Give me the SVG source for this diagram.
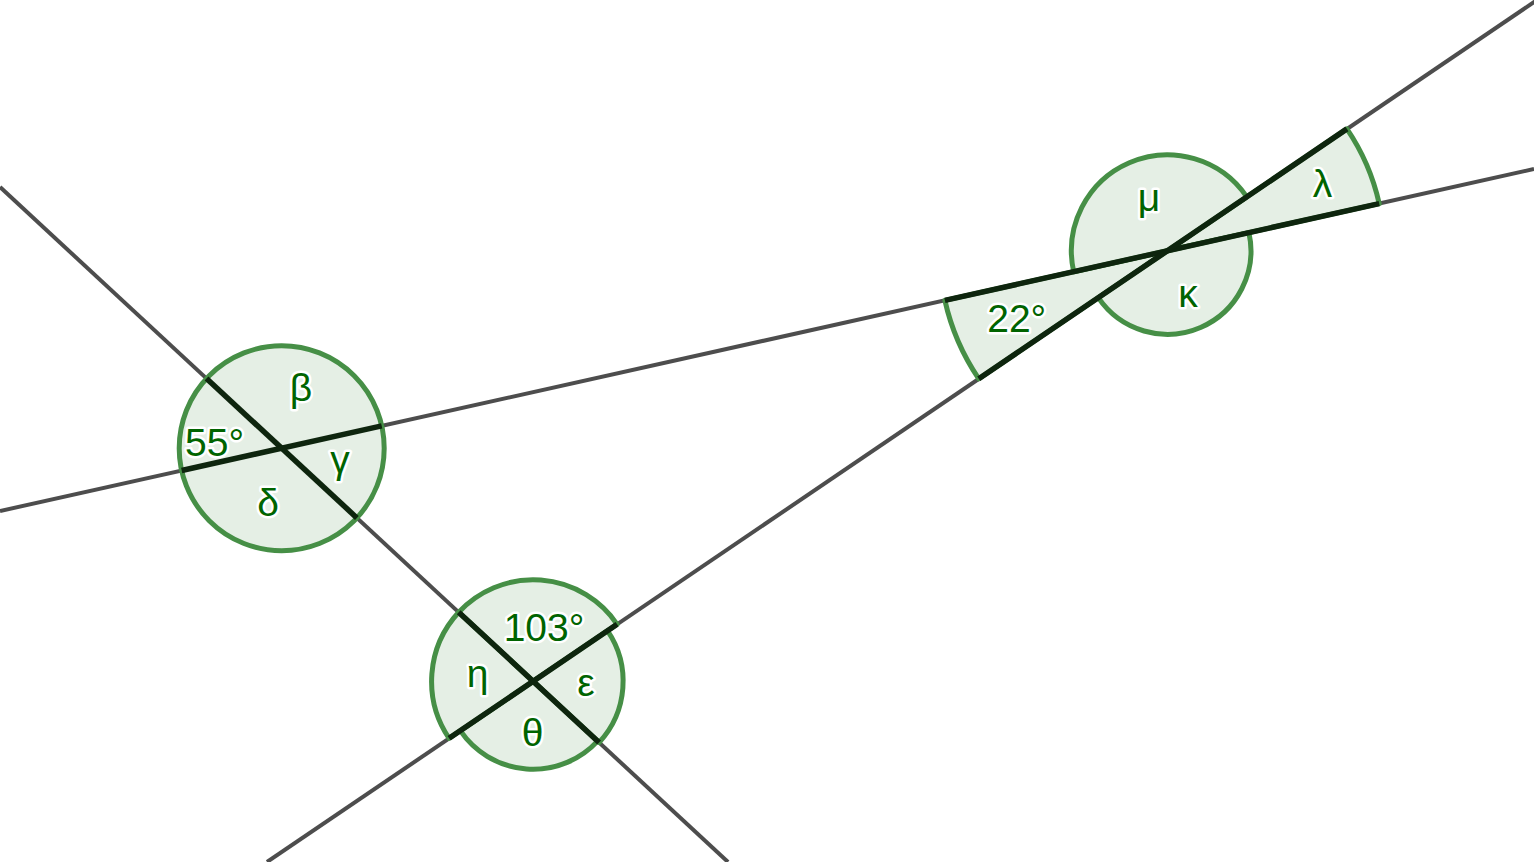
<svg xmlns="http://www.w3.org/2000/svg" width="1534" height="862" viewBox="0 0 1534 862">
<style>
.line{stroke:#4d4d4d;stroke-width:4;fill:none}
.sector{fill:#e5efe5;stroke:#468f46;stroke-width:5;stroke-linejoin:round}
.edge{stroke:#0e250e;stroke-width:5.5;fill:none}
.lbl{font-family:"Liberation Sans",Arial,sans-serif;font-size:39px;fill:#006400;stroke:#ffffff;stroke-width:5;paint-order:stroke;stroke-linejoin:round;text-anchor:middle}
</style>
<rect width="1534" height="862" fill="#ffffff"/>
<g id="connectors">
<line class="line" x1="0" y1="187" x2="728" y2="862"/>
<line class="line" x1="0" y1="511" x2="1534" y2="169"/>
<line class="line" x1="267" y1="862" x2="1537" y2="0"/>
</g>
<g id="vertex1">
<circle class="sector" cx="281.7" cy="448.2" r="102.5"/>
<line class="edge" x1="206.5" y1="378.5" x2="356.9" y2="517.9"/>
<line class="edge" x1="181.7" y1="470.5" x2="381.7" y2="425.9"/>
</g>
<g id="vertex2">
<path class="sector" d="M533.1 681.3 L458.7 612.3 A101.5 101.5 0 0 1 617.1 624.3 Z"/>
<path class="sector" d="M533.1 681.3 L607.6 630.8 A90 90 0 0 1 599.1 742.5 Z"/>
<path class="sector" d="M533.1 681.3 L597.6 741.1 A88 88 0 0 1 460.3 730.7 Z"/>
<path class="sector" d="M533.1 681.3 L449.1 738.3 A101.5 101.5 0 0 1 458.7 612.3 Z"/>
<line class="edge" x1="458.7" y1="612.3" x2="599.1" y2="742.5"/>
<line class="edge" x1="449.1" y1="738.3" x2="617.1" y2="624.3"/>
</g>
<g id="vertex3">
<path class="sector" d="M1167.4 250.8 L978.8 378.8 A228 228 0 0 1 944.9 300.4 Z"/>
<path class="sector" d="M1167.4 250.8 L1346.9 128.9 A217 217 0 0 1 1379.2 203.6 Z"/>
<path class="sector" d="M1167.4 250.8 L1246.8 196.9 A96 96 0 0 0 1073.7 271.7 Z"/>
<path class="sector" d="M1167.4 250.8 L1248.9 232.6 A83.5 83.5 0 0 1 1098.3 297.7 Z"/>
<line class="edge" x1="944.9" y1="300.4" x2="1379.2" y2="203.6"/>
<line class="edge" x1="978.8" y1="378.8" x2="1346.9" y2="128.9"/>
</g>
<g id="labels">
<text class="lbl" x="214.5" y="456">55°</text>
<text class="lbl" x="301" y="401">β</text>
<text class="lbl" x="340" y="473">γ</text>
<text class="lbl" x="268" y="516">δ</text>
<text class="lbl" x="544" y="641">103°</text>
<text class="lbl" x="477.5" y="687">η</text>
<text class="lbl" x="586" y="696">ε</text>
<text class="lbl" x="532.5" y="746">θ</text>
<text class="lbl" x="1149" y="211">μ</text>
<text class="lbl" x="1188" y="307">κ</text>
<text class="lbl" x="1016.7" y="332">22°</text>
<text class="lbl" x="1322.5" y="197">λ</text>
</g>
</svg>
